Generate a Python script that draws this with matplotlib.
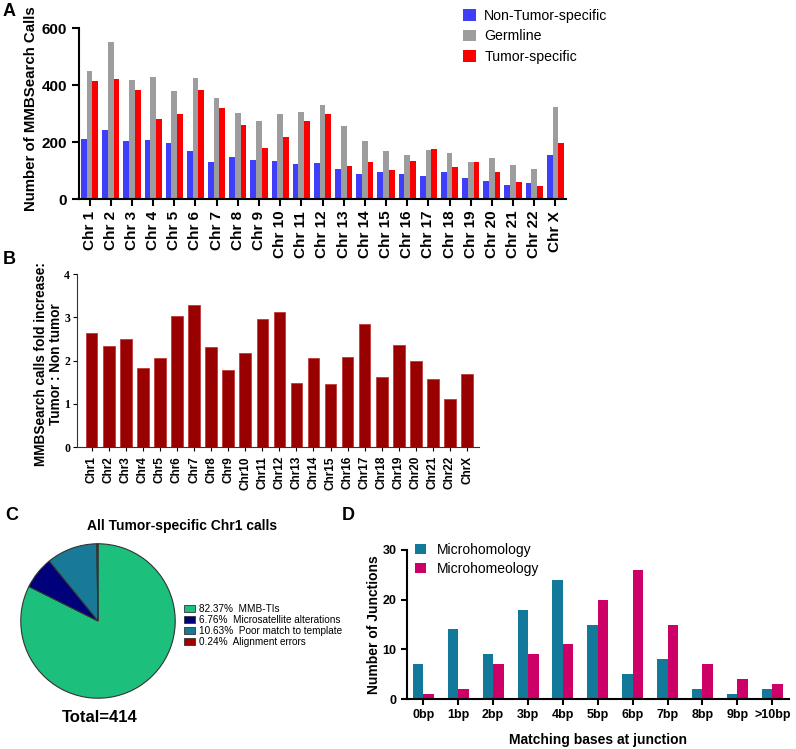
import matplotlib
matplotlib.use('Agg')
import matplotlib.pyplot as plt
import numpy as np
from matplotlib.patches import Patch

plt.rcParams['font.family'] = ['Liberation Sans', 'DejaVu Sans']

# ---- panel A: calls per chromosome
chroms_a = ['Chr %d' % i for i in range(1, 23)] + ['Chr X']
non_tumor = [211, 241, 204, 207, 195, 169, 130, 148, 137, 134, 124, 128,
             105, 86, 93, 86, 82, 93, 74, 63, 49, 55, 155]
germline = [448, 552, 417, 428, 380, 424, 356, 302, 273, 300, 305, 329,
            257, 202, 167, 156, 173, 160, 130, 145, 118, 105, 324]
tumor = [413, 422, 382, 281, 300, 382, 319, 258, 179, 218, 274, 299,
         116, 131, 102, 134, 177, 112, 130, 95, 58, 46, 195]

# ---- panel B: fold increase tumor / non tumor
chroms_b = ['Chr%d' % i for i in range(1, 23)] + ['ChrX']
fold = [2.64, 2.34, 2.50, 1.82, 2.06, 3.02, 3.28, 2.32, 1.77, 2.18, 2.97, 3.12,
        1.47, 2.05, 1.46, 2.09, 2.85, 1.61, 2.36, 2.00, 1.57, 1.12, 1.68]

# ---- panel C: pie of chr1 calls
pie_pct = [82.37, 6.76, 10.63, 0.24]
pie_names = ['MMB-TIs', 'Microsatellite alterations', 'Poor match to template', 'Alignment errors']
pie_colors = ['#1dbf7c', '#00007a', '#187a96', '#a00000']

# ---- panel D: junctions
bp_labels = ['0bp', '1bp', '2bp', '3bp', '4bp', '5bp', '6bp', '7bp', '8bp', '9bp', '>10bp']
microhomology = [7, 14, 9, 18, 24, 15, 5, 8, 2, 1, 2]
microhomeology = [1, 2, 7, 9, 11, 20, 26, 15, 7, 4, 3]

W, H = 796, 749
fig = plt.figure(figsize=(W / 100, H / 100), dpi=100)


def box(l, t, r, b):
    return [l / W, 1 - b / H, (r - l) / W, (b - t) / H]


# ===== A
ax = fig.add_axes(box(79, 28, 566, 199))
x = np.arange(len(chroms_a))
w = 0.27
ax.bar(x - w, non_tumor, w, color='#3f3ffb', label='Non-Tumor-specific')
ax.bar(x, germline, w, color='#9d9d9f', label='Germline')
ax.bar(x + w, tumor, w, color='#fa0000', label='Tumor-specific')
ax.set_xlim(-0.5, 22.5)
ax.set_ylim(0, 600)
ax.set_yticks([0, 200, 400, 600])
ax.set_xticks(x)
ax.set_xticklabels(chroms_a, rotation=90, fontsize=11, fontweight='bold')
ax.tick_params(axis='y', labelsize=11, width=1.5, length=5)
ax.tick_params(axis='x', width=1.5, length=5)
for lab in ax.get_yticklabels():
    lab.set_fontweight('bold')
for s in ['top', 'right']:
    ax.spines[s].set_visible(False)
for s in ['left', 'bottom']:
    ax.spines[s].set_linewidth(1.5)
ax.set_ylabel('Number of MMBSearch Calls', fontsize=10.8, fontweight='bold')
ax.yaxis.set_label_coords(-0.085, 0.53)
ax.legend(loc='upper left', bbox_to_anchor=(463 / W, 1 - 9 / H), bbox_transform=fig.transFigure,
          frameon=False, fontsize=10.2, handlelength=0.9, handleheight=0.9,
          handletextpad=0.6, labelspacing=0.45, borderaxespad=0, borderpad=0)

# ===== B
ax = fig.add_axes(box(77, 274, 479, 447))
xb = np.arange(len(chroms_b))
ax.bar(xb, fold, 0.68, color='#990000', edgecolor='#c03a3a', linewidth=0.6)
ax.set_xlim(-0.86, 22.7)
ax.set_ylim(0, 4)
ax.set_yticks([0, 1, 2, 3, 4])
ax.set_xticks(xb)
ax.set_xticklabels(chroms_b, rotation=90, fontsize=8.5, fontweight='bold')
for lab in ax.get_yticklabels():
    lab.set_family(['Liberation Serif'])
    lab.set_fontweight('bold')
ax.tick_params(axis='y', labelsize=8.5, width=0.8, length=3, pad=2)
ax.tick_params(axis='x', width=0.8, length=3)
for s in ['top', 'right']:
    ax.spines[s].set_visible(False)
for s in ['left', 'bottom']:
    ax.spines[s].set_linewidth(0.8)
    ax.spines[s].set_color('#333333')
ax.set_ylabel('MMBSearch calls fold increase:\nTumor : Non tumor', fontsize=9.8,
              fontweight='bold', linespacing=1.1)
ax.yaxis.set_label_coords(-0.035, 0.48)

# ===== C
ax = fig.add_axes(box(20, 543, 176, 699))
ax.pie(pie_pct, colors=pie_colors, startangle=90, counterclock=False,
       wedgeprops=dict(edgecolor='#333333', linewidth=0.8))
ax.set_xlim(-1.01, 1.01)
ax.set_ylim(-1.01, 1.01)
ax.set_aspect('equal')
fig.text(182 / W, 1 - 526 / H, 'All Tumor-specific Chr1 calls', ha='center', va='center',
         fontsize=10, fontweight='bold')
fig.text(100 / W, 1 - 718 / H, 'Total=414', ha='center', va='center',
         fontsize=12, fontweight='bold')
handles = [Patch(facecolor=c, edgecolor='#333333', linewidth=0.6) for c in pie_colors]
labels = ['%.2f%%  %s' % (p, n) for p, n in zip(pie_pct, pie_names)]
fig.legend(handles, labels, loc='upper left', bbox_to_anchor=(184 / W, 1 - 604 / H),
           frameon=False, fontsize=7.2, handlelength=1.1, handleheight=0.7,
           handletextpad=0.4, labelspacing=0.1, borderaxespad=0, borderpad=0)

# ===== D
ax = fig.add_axes(box(407, 550, 789, 699))
xd = np.arange(len(bp_labels))
ax.bar(xd - 0.15, microhomology, 0.3, color='#13799a', label='Microhomology')
ax.bar(xd + 0.15, microhomeology, 0.3, color='#cc0066', label='Microhomeology')
ax.set_xlim(-0.47, 10.48)
ax.set_ylim(0, 30)
ax.set_yticks([0, 10, 20, 30])
ax.set_xticks(xd)
ax.set_xticklabels(bp_labels, fontsize=9, fontweight='bold')
for lab in ax.get_yticklabels():
    lab.set_fontweight('bold')
ax.tick_params(axis='y', labelsize=9, width=1.5, length=4)
ax.tick_params(axis='x', width=1.5, length=4)
for s in ['top', 'right']:
    ax.spines[s].set_visible(False)
for s in ['left', 'bottom']:
    ax.spines[s].set_linewidth(1.5)
ax.set_ylabel('Number of Junctions', fontsize=10, fontweight='bold')
ax.yaxis.set_label_coords(-0.068, 0.5)
ax.set_xlabel('Matching bases at junction', fontsize=10, fontweight='bold', labelpad=8)
ax.legend(loc='upper left', bbox_to_anchor=(415 / W, 1 - 543 / H), bbox_transform=fig.transFigure,
          frameon=False, fontsize=10, handlelength=0.8, handleheight=0.8,
          handletextpad=0.8, labelspacing=0.35, borderaxespad=0, borderpad=0)

# panel letters
for letter, px, py in [('A', 9, 11), ('B', 9, 260), ('C', 12, 516), ('D', 348, 516)]:
    fig.text(px / W, 1 - py / H, letter, ha='center', va='center', fontsize=13, fontweight='bold')

fig.savefig('out.png', dpi=100)
